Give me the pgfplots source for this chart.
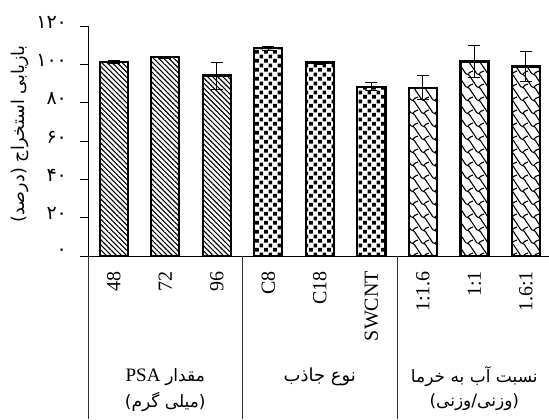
\documentclass[border=0pt]{standalone}
\usepackage{pgfplots}
\pgfplotsset{compat=1.18}
\usetikzlibrary{patterns,patterns.meta}
\usepackage{fontspec}
\setmainfont{Liberation Serif}
\newfontfamily\fa[Script=Arabic]{DejaVu Sans}
\TeXXeTstate=1

% staggered small squares
\pgfdeclarepatternformonly{confetti}{\pgfpointorigin}{\pgfpoint{4.4pt}{4.4pt}}{\pgfpoint{4.4pt}{4.4pt}}{%
  \pgfpathrectangle{\pgfpoint{0.1pt}{0.2pt}}{\pgfpoint{1.9pt}{1.9pt}}%
  \pgfpathrectangle{\pgfpoint{2.3pt}{2.4pt}}{\pgfpoint{1.9pt}{1.9pt}}%
  \pgfusepath{fill}}

% wavy shingle-like strokes
\pgfdeclarepatternformonly{shingle}{\pgfpoint{-0.5pt}{-0.5pt}}{\pgfpoint{6pt}{7pt}}{\pgfpoint{5.5pt}{6.5pt}}{%
  \pgfsetlinewidth{0.55pt}%
  \pgfpathmoveto{\pgfpoint{0pt}{6.5pt}}%
  \pgfpathcurveto{\pgfpoint{1.5pt}{5.5pt}}{\pgfpoint{1pt}{3.5pt}}{\pgfpoint{2.75pt}{3.25pt}}%
  \pgfpathcurveto{\pgfpoint{4.5pt}{3pt}}{\pgfpoint{4pt}{1pt}}{\pgfpoint{5.5pt}{0pt}}%
  \pgfpathmoveto{\pgfpoint{2.75pt}{3.25pt}}%
  \pgfpathcurveto{\pgfpoint{3.5pt}{4.5pt}}{\pgfpoint{4.5pt}{4.5pt}}{\pgfpoint{5.5pt}{5pt}}%
  \pgfusepath{stroke}}

\begin{document}
\begin{tikzpicture}
\begin{axis}[
  at={(0,0)}, anchor=south west,
  scale only axis, width=230.5pt, height=115pt,
  xmin=-0.5, xmax=8.45, ymin=0, ymax=120,
  axis x line*=bottom, axis y line*=left,
  axis line style={line width=0.5pt, black},
  ytick={0,20,...,120},
  yticklabels={۰,۲۰,۴۰,۶۰,۸۰,۱۰۰,۱۲۰},
  yticklabel style={font=\fa\fontsize{9.5}{10}\selectfont, yshift=2pt, xshift=-3pt},
  tick align=outside, major tick length=4pt,
  tick style={black, line width=0.5pt},
  xtick={0,...,8},
  xticklabels={48,72,96,C8,C18,SWCNT,1:1.6,1:1,1.6:1},
  x tick style={draw=none},
  xticklabel style={rotate=90, anchor=east, font=\fontsize{10}{12}\selectfont},
  ybar, bar width=14pt, bar shift=0pt,
  clip=false,
  every axis plot/.append style={draw=black, line width=1.2pt},
  error bars/error bar style={line width=0.5pt, black},
  error bars/error mark options={rotate=90, mark size=3pt, line width=0.5pt, black},
]
% PSA amount (mg)
\addplot[pattern={Lines[angle=-45, distance=1.8pt, line width=0.55pt]},
  error bars/.cd, y dir=both, y explicit]
  coordinates {(0,101.2) +- (0,0.8) (1,103.7) +- (0,0.5) (2,94.1) +- (0,7.0)};
% sorbent type
\addplot[pattern=confetti,
  error bars/.cd, y dir=both, y explicit]
  coordinates {(3,108.4) +- (0,1.0) (4,100.9) +- (0,0.8) (5,88.3) +- (0,2.0)};
% water to date ratio
\addplot[pattern=shingle,
  error bars/.cd, y dir=both, y explicit]
  coordinates {(6,87.8) +- (0,6.3) (7,101.4) +- (0,8.5) (8,98.8) +- (0,7.8)};

\coordinate (s0) at (axis cs:-0.5,0);
\coordinate (s1) at (axis cs:2.5,0);
\coordinate (s2) at (axis cs:5.5,0);
\coordinate (g1) at (axis cs:1,0);
\coordinate (g2) at (axis cs:4,0);
\coordinate (g3) at (axis cs:7,0);
\end{axis}

\foreach \s in {s0,s1,s2}
  \draw[line width=0.5pt, black!80] (\s) -- ++(0,-81.5pt);

\begin{scope}[every node/.style={inner sep=0pt}]
\node[font=\fontsize{9.5}{12}\selectfont] at ([yshift=-60.5pt]g1) {\beginR{\fa\fontsize{8.5}{10}\selectfont مقدار} PSA\endR};
\node[font=\fa\fontsize{8.5}{10}\selectfont] at ([yshift=-73pt]g1) {\beginR (میلی گرم)\endR};
\node[font=\fa\fontsize{9}{10}\selectfont] at ([yshift=-60.5pt]g2) {\beginR نوع جاذب\endR};
\node[font=\fa\fontsize{8.5}{10}\selectfont] at ([yshift=-60.5pt]g3) {\beginR نسبت آب به خرما\endR};
\node[font=\fa\fontsize{8.5}{10}\selectfont] at ([yshift=-73pt]g3) {\beginR (وزنی/وزنی)\endR};
\node[rotate=90, font=\fa\fontsize{8.8}{10}\selectfont] at (-34pt,61pt) {\beginR بازیابی استخراج (درصد)\endR};
\end{scope}

\pgfresetboundingbox
\path[use as bounding box] (-44pt,-81.5pt) rectangle (230.5pt,128pt);
\end{tikzpicture}
\end{document}
